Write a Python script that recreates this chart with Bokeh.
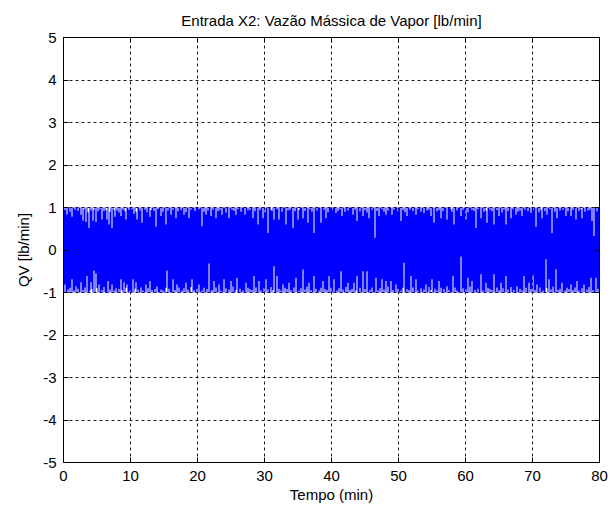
import numpy as np
from bokeh.plotting import figure
from bokeh.models import ColumnDataSource, FixedTicker, LinearAxis, Range1d, CustomJSTickFormatter
from bokeh.embed import file_html
from bokeh.resources import INLINE

# ---------------- data ----------------
t_start, t_end, n_samples = 0.0, 80.0, 536
peak_high, peak_low = 1.0, -1.0   # the signal saturates at +-1 lb/min

# upper envelope dips (time [min], value)
top_dip_t = [0.45, 1.34, 2.6, 2.94, 3.43, 3.83, 4.33, 4.83, 5.72, 6.47, 6.82, 7.31, 7.71, 8.56, 9.4,
             10.55, 11.04, 11.79, 12.89, 13.78, 14.52, 15.27, 16.02, 16.76, 18.0, 18.75, 20.74, 21.24,
             21.99, 22.73, 23.73, 24.72, 25.72, 27.12, 28.21, 28.96, 29.71, 30.45, 31.45, 32.19, 33.19,
             34.18, 34.93, 35.68, 36.42, 37.42, 38.41, 39.16, 40.65, 41.64, 43.14, 43.88, 44.63, 45.62,
             46.42, 47.12, 48.11, 49.1, 50.35, 51.34, 52.59, 53.83, 54.82, 55.32, 56.32, 57.31, 58.31,
             59.3, 60.05, 61.54, 62.29, 63.28, 64.28, 65.02, 66.02, 66.76, 67.51, 68.5, 69.75, 70.49,
             71.49, 72.23, 72.98, 73.73, 74.97, 75.72, 76.46, 77.46, 78.95, 79.2]
top_dip_v = [0.83, 0.78, 0.83, 0.69, 0.66, 0.52, 0.69, 0.66, 0.72, 0.72, 0.60, 0.52, 0.78, 0.80, 0.72,
             0.85, 0.72, 0.64, 0.78, 0.55, 0.80, 0.60, 0.83, 0.75, 0.83, 0.75, 0.56, 0.83,
             0.80, 0.75, 0.83, 0.75, 0.83, 0.83, 0.75, 0.60, 0.75, 0.40, 0.72, 0.72, 0.60,
             0.52, 0.72, 0.75, 0.64, 0.40, 0.64, 0.75, 0.87, 0.80, 0.83, 0.68, 0.80, 0.75,
             0.29, 0.80, 0.83, 0.83, 0.68, 0.80, 0.83, 0.87, 0.80, 0.64, 0.75, 0.72, 0.60,
             0.80, 0.72, 0.52, 0.75, 0.64, 0.60, 0.80, 0.60, 0.75, 0.83, 0.80, 0.87, 0.55,
             0.75, 0.83, 0.40, 0.75, 0.80, 0.80, 0.72, 0.75, 0.68, 0.33]
top_small_t = [0.2, 0.9, 1.7, 2.2, 3.1, 3.6, 4.1, 4.6, 5.1, 5.4, 6.0, 6.3, 7.0, 7.5, 8.0, 8.3, 8.9, 9.2,
               9.8, 10.2, 10.8, 11.4, 12.1, 12.5, 13.1, 13.5, 14.1, 14.8, 15.6, 16.3, 17.1, 17.5, 18.3,
               19.1, 19.6, 20.2, 21.0, 21.6, 22.3, 23.1, 23.4, 24.2, 25.1, 25.4, 26.1, 26.5, 27.6, 27.9,
               28.6, 29.3, 30.0, 30.9, 31.1, 31.8, 32.6, 33.5, 33.8, 34.5, 35.2, 36.0, 36.8, 37.1, 37.9,
               38.9, 39.5, 40.0, 40.9, 41.3, 42.0, 42.5, 43.5, 44.2, 45.0, 45.3, 46.0, 46.8, 47.5, 47.8,
               48.5, 49.4, 49.9, 50.7, 51.0, 51.7, 52.1, 52.9, 53.3, 54.2, 54.5, 55.8, 56.0, 56.7, 57.8,
               58.0, 58.7, 59.6, 60.4, 60.9, 61.2, 61.9, 62.7, 63.0, 63.6, 64.0, 64.7, 65.4, 65.7, 66.4,
               67.1, 67.9, 68.2, 68.9, 69.3, 70.1, 70.9, 71.2, 71.9, 72.6, 73.3, 74.1, 74.5, 75.3, 76.0,
               76.9, 77.2, 77.9, 78.3, 78.6, 79.6]
top_small_v = [0.94, 0.90, 0.95, 0.92, 0.96, 0.89, 0.93, 0.95, 0.91, 0.96, 0.92, 0.94, 0.90, 0.95, 0.93, 0.88, 0.95, 0.91,
               0.94, 0.96, 0.90, 0.93, 0.95, 0.89, 0.94, 0.92, 0.96, 0.90, 0.93, 0.95, 0.91, 0.94, 0.89,
               0.95, 0.92, 0.96, 0.90, 0.93, 0.95, 0.91, 0.94, 0.88, 0.95, 0.92, 0.96, 0.90, 0.93, 0.95,
               0.91, 0.94, 0.89, 0.95, 0.92, 0.96, 0.90, 0.93, 0.95, 0.91, 0.94, 0.92, 0.96, 0.90, 0.93,
               0.95, 0.89, 0.94, 0.92, 0.96, 0.90, 0.93, 0.95, 0.91, 0.94, 0.88, 0.95, 0.92, 0.96, 0.90,
               0.93, 0.95, 0.91, 0.94, 0.89, 0.95, 0.92, 0.96, 0.90, 0.93, 0.95, 0.91, 0.94, 0.92, 0.96,
               0.90, 0.93, 0.95, 0.89, 0.94, 0.92, 0.96, 0.90, 0.93, 0.95, 0.91, 0.94, 0.88, 0.95, 0.92,
               0.96, 0.90, 0.93, 0.95, 0.91, 0.94, 0.89, 0.95, 0.92, 0.96, 0.90, 0.93, 0.95, 0.91, 0.94,
               0.92, 0.96, 0.90, 0.93, 0.95, 0.91]

# lower envelope dips (time [min], value)
bot_dip_t = [0.25, 1.34, 1.84, 2.6, 3.58, 4.08, 4.48, 4.83, 5.32, 6.57, 7.31, 8.56, 9.06, 9.55, 10.3,
             10.8, 12.29, 12.89, 15.52, 16.27, 17.01, 18.26, 19.25, 20.25, 21.74, 22.48, 23.23, 23.98,
             24.97, 25.97, 27.22, 28.46, 29.21, 30.2, 31.45, 31.94, 32.69, 33.69, 34.68, 35.68, 36.67,
             37.42, 38.66, 39.66, 40.4, 41.39, 42.39, 43.38, 43.88, 44.63, 45.37, 46.62, 47.61, 48.11,
             48.86, 49.6, 50.85, 51.84, 52.59, 54.08, 55.07, 56.07, 57.31, 58.06, 59.3, 60.3, 61.04,
             62.29, 63.04, 64.28, 65.27, 66.02, 67.76, 68.75, 69.5, 70.0, 70.74, 71.99, 72.48, 73.48,
             74.47, 75.72, 76.71, 77.71, 78.7, 79.45]
bot_dip_v = [-0.81, -0.69, -0.85, -0.76, -0.61, -0.76, -0.48, -0.55, -0.81, -0.73, -0.81, -0.69, -0.76, -0.81, -0.69,
             -0.76, -0.81, -0.73, -0.48, -0.69, -0.81, -0.77, -0.69, -0.81, -0.32, -0.73, -0.81, -0.69,
             -0.73, -0.65, -0.77, -0.61, -0.73, -0.69, -0.38, -0.61, -0.81, -0.77, -0.65, -0.46, -0.77,
             -0.61, -0.73, -0.61, -0.69, -0.50, -0.77, -0.77, -0.61, -0.50, -0.50, -0.65, -0.69, -0.73,
             -0.73, -0.81, -0.30, -0.61, -0.69, -0.81, -0.69, -0.73, -0.85, -0.61, -0.15, -0.65, -0.73,
             -0.57, -0.77, -0.57, -0.77, -0.61, -0.85, -0.61, -0.77, -0.58, -0.81, -0.22, -0.69, -0.45,
             -0.77, -0.81, -0.73, -0.81, -0.65, -0.65]
bot_small_t = [0.6, 1.0, 1.5, 2.1, 2.9, 3.2, 3.9, 4.3, 5.0, 5.7, 6.1, 6.9, 7.6, 7.9, 8.3, 8.8, 9.3, 9.9,
               10.6, 11.1, 11.5, 11.9, 12.6, 13.2, 13.6, 14.0, 14.5, 14.9, 15.3, 15.8, 16.6, 17.3, 17.7,
               18.0, 18.6, 19.0, 19.5, 19.9, 20.6, 21.0, 21.4, 22.1, 22.8, 23.5, 24.3, 24.7, 25.3, 25.7,
               26.3, 26.8, 27.5, 27.9, 28.2, 28.8, 29.5, 29.9, 30.5, 30.9, 31.2, 32.1, 32.4, 33.0, 33.4,
               34.0, 34.4, 35.1, 35.4, 36.0, 36.4, 36.9, 37.7, 38.1, 38.4, 39.0, 39.3, 39.9, 40.8, 41.1,
               41.7, 42.1, 42.7, 43.1, 43.6, 44.3, 45.0, 45.7, 46.1, 46.9, 47.3, 47.9, 48.5, 49.2, 49.9,
               50.3, 50.6, 51.2, 51.5, 52.1, 52.9, 53.3, 53.8, 54.5, 54.8, 55.4, 55.8, 56.4, 56.8, 57.6,
               58.4, 58.8, 59.7, 60.0, 60.7, 61.4, 61.8, 62.6, 63.4, 63.7, 64.0, 64.7, 65.0, 65.6, 66.4,
               66.8, 67.3, 68.1, 68.4, 69.1, 69.8, 70.4, 71.1, 71.5, 72.2, 72.8, 73.1, 73.8, 74.1, 74.8,
               75.2, 75.5, 76.1, 76.4, 77.0, 77.4, 78.1, 78.4, 79.0, 79.8]
bot_small_v = [-0.93, -0.89, -0.95, -0.91, -0.94, -0.88, -0.95, -0.92, -0.90, -0.94, -0.87, -0.93, -0.95, -0.90, -0.92, -0.94, -0.89, -0.95,
               -0.91, -0.93, -0.88, -0.95, -0.90, -0.94, -0.92, -0.86, -0.93, -0.95, -0.89, -0.91, -0.94, -0.88, -0.95,
               -0.90, -0.93, -0.87, -0.94, -0.91, -0.95, -0.89, -0.92, -0.94, -0.88, -0.95, -0.90, -0.93, -0.86, -0.94,
               -0.91, -0.95, -0.89, -0.92, -0.94, -0.88, -0.95, -0.90, -0.93, -0.87, -0.94, -0.91, -0.95, -0.89, -0.92,
               -0.94, -0.88, -0.95, -0.90, -0.93, -0.86, -0.94, -0.91, -0.95, -0.89, -0.92, -0.94, -0.88, -0.95, -0.90,
               -0.93, -0.87, -0.94, -0.91, -0.95, -0.89, -0.92, -0.94, -0.88, -0.95, -0.90, -0.93, -0.86, -0.94, -0.91,
               -0.95, -0.89, -0.92, -0.94, -0.88, -0.95, -0.90, -0.93, -0.87, -0.94, -0.91, -0.95, -0.89, -0.92, -0.94,
               -0.88, -0.95, -0.90, -0.93, -0.86, -0.94, -0.91, -0.95, -0.89, -0.92, -0.94, -0.88, -0.95, -0.90, -0.93,
               -0.87, -0.94, -0.91, -0.95, -0.89, -0.92, -0.94, -0.88, -0.95, -0.90, -0.93, -0.86, -0.94, -0.91, -0.95,
               -0.89, -0.92, -0.94, -0.88, -0.95, -0.90, -0.93, -0.87, -0.94, -0.91]

x_ticks = [0, 10, 20, 30, 40, 50, 60, 70, 80]
y_ticks = [-5, -4, -3, -2, -1, 0, 1, 2, 3, 4, 5]

# ---------------- build the sampled envelope ----------------
step = (t_end - t_start) / n_samples
t = t_start + (np.arange(n_samples) + 0.5) * step
upper = np.full(n_samples, peak_high)
lower = np.full(n_samples, peak_low)

def apply(ts, vs, arr, fn):
    for tt, vv in zip(ts, vs):
        i = min(n_samples - 1, max(0, int((tt - t_start) / step)))
        arr[i] = fn(arr[i], vv)

apply(top_small_t, top_small_v, upper, min)
apply(top_dip_t, top_dip_v, upper, min)
apply(bot_small_t, bot_small_v, lower, max)
apply(bot_dip_t, bot_dip_v, lower, max)

# step edges: each sample spans one bin
edges_t = np.repeat(t_start + np.arange(n_samples + 1) * step, 2)[1:-1]
edges_up = np.repeat(upper, 2)
edges_lo = np.repeat(lower, 2)
src = ColumnDataSource(dict(t=edges_t, upper=edges_up, lower=edges_lo))

FONT = "Liberation Sans"
FS = "15px"

p = figure(width=613, height=505, output_backend="svg", toolbar_location=None,
           x_range=Range1d(0, 80), y_range=Range1d(-5, 5),
           min_border_left=63, min_border_right=14, min_border_top=37, min_border_bottom=43,
           background_fill_color="white", border_fill_color="white")

p.title.text = "Entrada X2: Vazão Mássica de Vapor [lb/min]"
p.title.align = "center"
p.title.standoff = 18
p.title.text_font = FONT
p.title.text_font_size = FS
p.title.text_font_style = "normal"
p.title.text_color = "#000000"

p.varea(x="t", y1="lower", y2="upper", source=src, fill_color="#0000FF", fill_alpha=1.0)

plain = CustomJSTickFormatter(code="return String(tick);")
blank = CustomJSTickFormatter(code="return '';")

for ax in (p.xaxis[0], p.yaxis[0]):
    ax.formatter = plain
    ax.major_label_text_font = FONT
    ax.major_label_text_font_size = FS
    ax.major_label_text_color = "#000000"
    ax.axis_label_text_font = FONT
    ax.axis_label_text_font_size = FS
    ax.axis_label_text_font_style = "normal"
    ax.axis_label_text_color = "#000000"
    ax.axis_line_color = "#000000"
    ax.major_tick_line_color = "#000000"
    ax.major_tick_in = 5
    ax.major_tick_out = 0
    ax.minor_tick_line_color = None

p.xaxis[0].ticker = FixedTicker(ticks=x_ticks)
p.yaxis[0].ticker = FixedTicker(ticks=y_ticks)
p.xaxis[0].axis_label = "Tempo (min)"
p.yaxis[0].axis_label = "QV [lb/min]"
p.xaxis[0].major_label_standoff = 8
p.yaxis[0].major_label_standoff = 7
p.xaxis[0].axis_label_standoff = 2
p.yaxis[0].axis_label_standoff = 8

# box ticks on top and right (MATLAB style)
top_ax = LinearAxis(ticker=FixedTicker(ticks=x_ticks), formatter=blank,
                    major_tick_in=5, major_tick_out=0, minor_tick_line_color=None,
                    axis_line_color="#000000", major_tick_line_color="#000000",
                    major_label_standoff=0, major_label_text_font_size="1px")
right_ax = LinearAxis(ticker=FixedTicker(ticks=y_ticks), formatter=blank,
                      major_tick_in=5, major_tick_out=0, minor_tick_line_color=None,
                      axis_line_color="#000000", major_tick_line_color="#000000",
                      major_label_standoff=0, major_label_text_font_size="1px")
p.add_layout(top_ax, "above")
p.add_layout(right_ax, "right")

p.xgrid.ticker = FixedTicker(ticks=x_ticks[1:-1])
p.ygrid.ticker = FixedTicker(ticks=y_ticks[1:-1])
for g in (p.xgrid, p.ygrid):
    g.grid_line_color = "#000000"
    g.grid_line_dash = "3 3"
    g.grid_line_width = 1
    g.grid_line_alpha = 0.9

p.outline_line_color = "#000000"
p.outline_line_width = 1

open("out.html", "w").write(file_html(p, INLINE))
